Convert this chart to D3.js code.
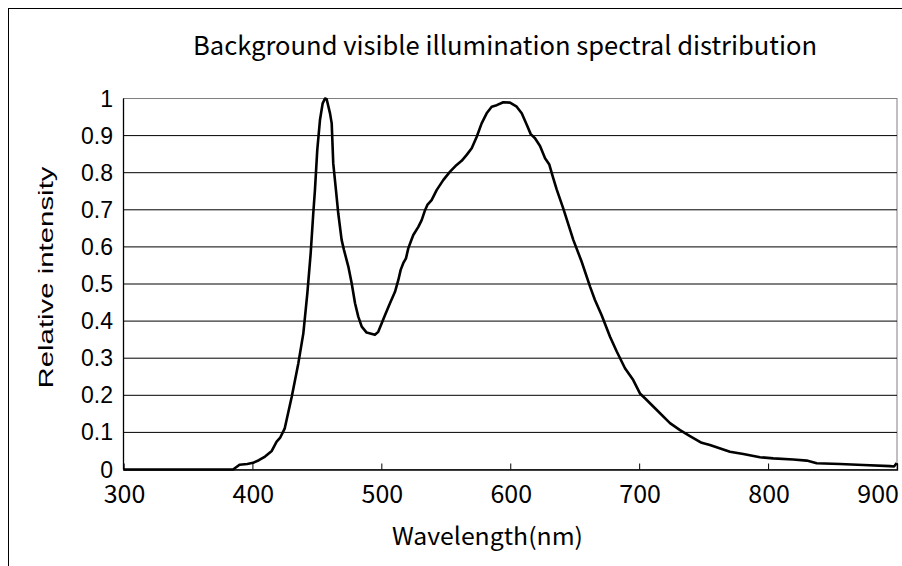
<!DOCTYPE html>
<html>
<head>
<meta charset="utf-8">
<script src="https://cdn.jsdelivr.net/npm/d3@7"></script>
<style>
  html, body { margin: 0; padding: 0; background: #fff; }
  svg { display: block; }
</style>
</head>
<body>
<svg id="chart" width="902" height="566"></svg>
<script>
// ---- data ----
const titleText = "Background visible illumination spectral distribution";
const xTitle = "Wavelength(nm)";
const yTitle = "Relative intensity";
const xTicks = [300, 400, 500, 600, 700, 800, 900];
const yTicks = [0, 0.1, 0.2, 0.3, 0.4, 0.5, 0.6, 0.7, 0.8, 0.9, 1];
const yTickLabels = ["0", "0.1", "0.2", "0.3", "0.4", "0.5", "0.6", "0.7", "0.8", "0.9", "1"];

const wavelength = [300, 340, 385, 390, 396, 400.5, 405, 409.8, 415, 418.8, 421.4, 425, 430.5, 435.6, 439.5, 442.6, 445.2, 447.2, 448.5, 450.3, 452.4, 454.5, 456.3, 457.6, 460.2, 461.5, 462.7, 464.8, 466.6, 469.2, 471, 474.4, 477, 479.6, 482.1, 484.8, 488.6, 495, 497.6, 500.3, 502.8, 506.7, 510.6, 513.2, 515, 517, 519.1, 520.9, 522.8, 524.8, 528.7, 531.3, 533.9, 535.7, 539, 542.9, 548, 553.3, 558.4, 562.3, 566.2, 570.1, 574, 577.8, 581.7, 585.6, 589.5, 594.6, 599.8, 605, 608.9, 612.8, 615.9, 619.2, 623.1, 627, 630.3, 633.4, 636, 641.1, 648.9, 655.4, 661.9, 665.7, 670.9, 677.4, 682.6, 689, 695.4, 700.6, 704.5, 712.3, 723.9, 731.7, 739.4, 748.5, 754.9, 770.4, 780.8, 793.7, 804, 819.5, 830, 837.7, 855.8, 873.9, 894.6, 897.7, 899.8];
const intensity = [0, 0, 0, 0.013, 0.015, 0.018, 0.025, 0.035, 0.05, 0.075, 0.085, 0.11, 0.196, 0.286, 0.367, 0.475, 0.583, 0.69, 0.753, 0.861, 0.942, 0.987, 1.0, 0.998, 0.96, 0.933, 0.825, 0.753, 0.69, 0.619, 0.592, 0.547, 0.502, 0.448, 0.412, 0.385, 0.369, 0.363, 0.371, 0.394, 0.416, 0.448, 0.479, 0.511, 0.538, 0.556, 0.569, 0.596, 0.614, 0.632, 0.654, 0.672, 0.699, 0.713, 0.726, 0.753, 0.78, 0.803, 0.821, 0.832, 0.848, 0.866, 0.897, 0.933, 0.96, 0.978, 0.982, 0.99, 0.989, 0.978, 0.96, 0.929, 0.904, 0.893, 0.872, 0.839, 0.822, 0.785, 0.755, 0.704, 0.619, 0.56, 0.493, 0.457, 0.416, 0.358, 0.318, 0.273, 0.241, 0.205, 0.192, 0.165, 0.125, 0.106, 0.09, 0.072, 0.066, 0.048, 0.042, 0.033, 0.03, 0.027, 0.024, 0.017, 0.015, 0.012, 0.009, 0.008, 0.017];

// ---- layout ----
const svg = d3.select("#chart");
const L = 123.5, R = 897, T = 98.5, B = 469.5;

const x = d3.scaleLinear().domain([300, 900]).range([L, R]);
const y = d3.scaleLinear().domain([0, 1]).range([B, T]);

// outer frame
svg.append("rect")
  .attr("x", 8.5).attr("y", 8.5)
  .attr("width", 1200).attr("height", 1200)
  .attr("fill", "#fff").attr("stroke", "#000").attr("stroke-width", 1);

// plot border (top/right gray)
svg.append("rect")
  .attr("x", L).attr("y", T)
  .attr("width", R - L).attr("height", B - T)
  .attr("fill", "#fff").attr("stroke", "#808080").attr("stroke-width", 1);

// gridlines
svg.append("g")
  .selectAll("line")
  .data(yTicks.filter(d => d > 0 && d < 1))
  .join("line")
  .attr("x1", L).attr("x2", R)
  .attr("y1", d => y(d)).attr("y2", d => y(d))
  .attr("stroke", "#000").attr("stroke-width", 1);

// x axis with inward ticks
const xAxis = d3.axisBottom(x)
  .tickValues(xTicks.slice(1))
  .tickSize(-6)
  .tickFormat("");
const gx = svg.append("g").attr("transform", `translate(0,${B})`).call(xAxis);
gx.select(".domain").attr("stroke", "#000").attr("stroke-width", 1.3);
gx.selectAll(".tick line").attr("stroke", "#000").attr("stroke-width", 1);

// y axis line
svg.append("line")
  .attr("x1", L).attr("x2", L).attr("y1", T).attr("y2", B)
  .attr("stroke", "#000").attr("stroke-width", 1.3);

// x tick labels
svg.append("g")
  .selectAll("text")
  .data(xTicks)
  .join("text")
  .attr("x", (d, i) => i === xTicks.length - 1 ? 899 : x(d) + 1)
  .attr("y", 503)
  .attr("text-anchor", (d, i) => i === xTicks.length - 1 ? "end" : "middle")
  .attr("font-family", "'Noto Sans CJK JP', sans-serif")
  .attr("font-size", 25)
  .attr("fill", "#000")
  .text(d => d);

// y tick labels
svg.append("g")
  .selectAll("text")
  .data(yTicks)
  .join("text")
  .attr("x", 113)
  .attr("y", d => y(d) + 8)
  .attr("text-anchor", "end")
  .attr("font-family", "'Liberation Sans', Arial, sans-serif")
  .attr("font-size", 23)
  .attr("fill", "#000")
  .text((d, i) => yTickLabels[i]);

// curve
const line = d3.line()
  .x((d, i) => x(wavelength[i]))
  .y((d, i) => y(intensity[i]))
  .curve(d3.curveLinear);
svg.append("path")
  .datum(intensity)
  .attr("d", line)
  .attr("fill", "none")
  .attr("stroke", "#000")
  .attr("stroke-width", 2.6)
  .attr("stroke-linejoin", "round");

// title
svg.append("text")
  .attr("x", 505).attr("y", 55)
  .attr("text-anchor", "middle")
  .attr("font-family", "'Noto Sans CJK JP', sans-serif")
  .attr("font-size", 26)
  .attr("textLength", 624)
  .attr("lengthAdjust", "spacingAndGlyphs")
  .attr("fill", "#000")
  .text(titleText);

// x title
svg.append("text")
  .attr("x", 487.5).attr("y", 545)
  .attr("text-anchor", "middle")
  .attr("font-family", "'Noto Sans CJK JP', sans-serif")
  .attr("font-size", 24)
  .attr("textLength", 191)
  .attr("lengthAdjust", "spacingAndGlyphs")
  .attr("fill", "#000")
  .text(xTitle);

// y title
svg.append("text")
  .attr("transform", "translate(53,277.5) rotate(-90)")
  .attr("text-anchor", "middle")
  .attr("font-family", "'Liberation Sans', Arial, sans-serif")
  .attr("font-size", 21)
  .attr("textLength", 222)
  .attr("lengthAdjust", "spacingAndGlyphs")
  .attr("fill", "#000")
  .text(yTitle);
</script>
</body>
</html>
